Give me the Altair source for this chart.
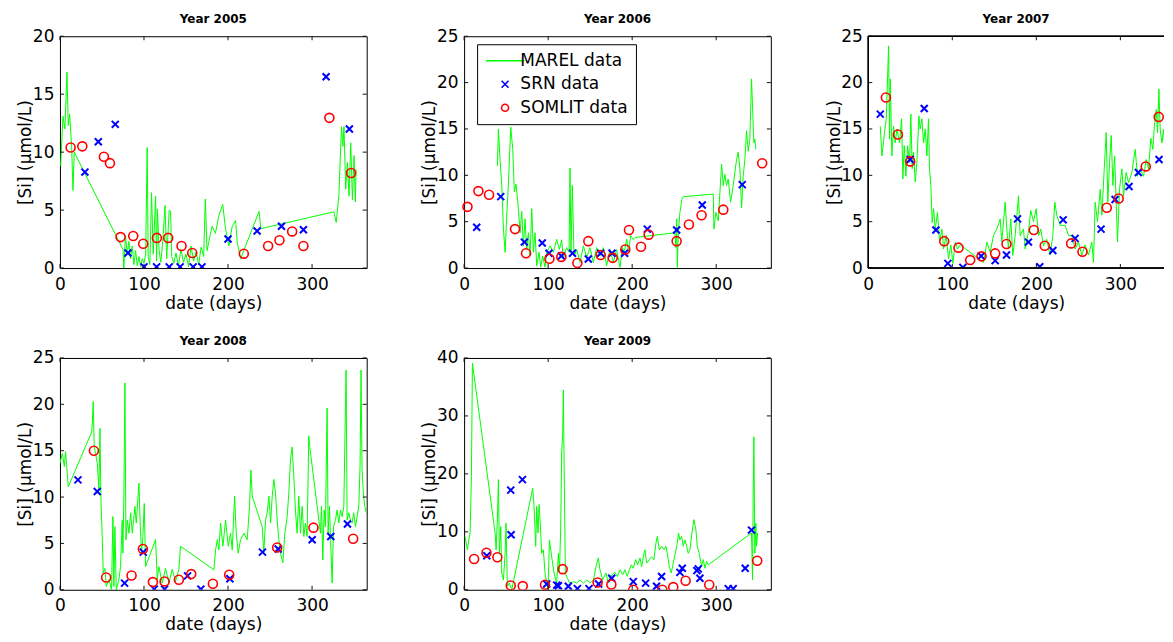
import altair as alt
import pandas as pd

# ---------------- data ----------------
# Year 2005
marel_2005_day = [0.8, 3.6, 5.9, 8.3, 9.9, 11.5, 13.9, 15.5, 17.0, 75.0, 76.0, 78.0, 80, 82, 84, 86, 88, 90, 92, 94, 96, 98, 100, 102,
                  103.8, 105, 107, 109, 111, 113.8, 115, 116, 118, 120, 122, 125, 127, 130, 131.6, 133, 135.6, 138, 141, 144, 147,
                  150, 153, 156, 159, 162, 165, 168, 171, 173, 175, 177, 181, 185, 189, 193.7, 197, 201, 205, 209, 211, 215, 237,
                  239, 326, 328.7, 331.9, 335, 336.7, 338, 340, 342, 344, 346, 348, 350, 351.5, 352.4]
marel_2005_val = [8.8, 13.1, 12.0, 16.9, 12.3, 13.3, 10.5, 6.7, 10.0, 1.6, 0.0, 2.8, 1.2, 2.3, 0.8, 1.9, 0.3, 1.5, 0.2, 1.0, 0.1, 0.8, 0.4, 1.2,
                  10.4, 1.0, 0.3, 6.5, 1.2, 6.2, 0.6, 5.1, 1.5, 0.5, 2.0, 5.4, 0.8, 5.0, 4.9, 1.0, 0.4, 1.3, 0.2, 1.6, 0.5,
                  1.2, 0.1, 1.9, 0.6, 1.4, 0.3, 1.8, 1.0, 5.95, 1.5, 2.2, 3.6, 3.0, 4.5, 5.5, 3.4, 1.9, 3.6, 4.1, 2.2, 0.8, 4.9,
                  3.4, 4.85, 3.93, 6.2, 12.2, 10.5, 12.2, 6.8, 9.1, 6.2, 10.8, 5.9, 9.7, 5.7, 8.5]
srn_2005_day = [29.7, 45.6, 65.8, 80.9, 100, 115, 130, 143, 158.5, 169, 200, 234.6, 263.6, 289.7, 316.7, 344.4]
srn_2005_val = [8.28, 10.9, 12.4, 1.3, 0.1, 0.1, 0.1, 0.1, 0.1, 0.1, 2.5, 3.2, 3.6, 3.3, 16.5, 12.0]
somlit_2005_day = [12.7, 26.6, 52.3, 59.5, 72.1, 87.2, 99.1, 115.3, 128.8, 144.7, 157.4, 218.8, 247.7, 261.2, 276.3, 289.7, 320.6, 346.4]
somlit_2005_val = [10.4, 10.5, 9.6, 9.05, 2.67, 2.76, 2.1, 2.6, 2.6, 1.9, 1.3, 1.24, 1.9, 2.4, 3.16, 1.9, 12.96, 8.2]

# Year 2006
marel_2006_day = [39.6, 40.8, 42.8, 44.8, 46.8, 48.8, 50.7, 52.7, 55.5, 57.9, 59.8, 61.8, 64.6, 66.6, 68.6, 70.5, 72.5, 74.5, 76.5,
                  78.5, 80.5, 82.4, 84.4, 86.4, 89.2, 91.2, 93.5, 96.3, 98.3, 102.3, 106.2, 110.2, 113.4, 116.1, 118.1, 122.0,
                  124.9, 126.0, 127.2, 128.8, 130.8, 134.0, 138.0, 141.9, 145.9, 149.8, 153.8, 157.7, 161.7, 165.7, 169.6,
                  173.6, 177.6, 181.5, 185.5, 188.3, 190.6, 193.4, 195.8, 198.2, 201.3, 204.1, 250.9, 252.0, 253.0, 253.7,
                  254.9, 256.8, 259.2, 260.8, 296.5, 297.3, 299.6, 302.4, 304.4, 306.4, 308.4, 310.3, 312.3, 314.3, 317.1,
                  320.2, 324.2, 326.2, 328.2, 330.2, 332.1, 334.1, 336.1, 338.1, 340.0, 342.0, 343.2, 344.8, 346.0, 347.2]
marel_2006_val = [11.0, 15.0, 11.7, 8.9, 4.2, 1.7, 5.6, 9.05, 15.2, 12.8, 8.2, 9.05, 6.4, 3.8, 6.1, 2.4, 5.3, 2.0, 3.8,
                  1.3, 6.4, 1.7, 3.8, 0.25, 1.7, 0.1, 1.3, 0.1, 1.7, 2.4, 1.7, 3.1, 2.0, 3.05, 1.0, 2.2,
                  1.7, 10.8, 1.7, 8.9, 1.3, 2.0, 0.6, 2.4, 1.15, 2.2, 0.6, 2.2, 1.3, 2.2, 0.25,
                  2.0, 0.6, 2.0, 0.07, 2.2, 1.7, 3.1, 1.7, 3.5, 3.1, 3.3, 3.8, 2.2, 5.3, 0.07,
                  3.8, 6.0, 7.4, 7.7, 7.97, 4.2, 6.0, 5.1, 8.15, 11.2, 8.9, 10.1, 8.9, 9.6, 7.1,
                  8.9, 11.7, 12.5, 10.7, 6.5, 9.9, 11.7, 14.8, 12.6, 13.9, 20.4, 17.5, 13.5, 13.9, 12.8]
srn_2006_day = [15, 43.6, 71.7, 93, 101, 115.7, 129, 147.8, 162.5, 176, 191, 218, 252.9, 283.4, 331]
srn_2006_val = [4.4, 7.7, 2.8, 2.7, 1.6, 1.3, 1.6, 0.97, 1.6, 1.6, 1.6, 4.2, 4.1, 6.8, 9.0]
somlit_2006_day = [4, 17, 29.7, 60.6, 73.7, 101.5, 115.7, 134.8, 147.8, 162.5, 176.8, 191.8, 196.2, 210.5, 219.6, 252.9,
                   267.5, 282.6, 308.4, 354.7]
somlit_2006_val = [6.6, 8.3, 7.9, 4.2, 1.6, 1.0, 1.2, 0.54, 2.9, 1.4, 1.1, 2.0, 4.1, 2.3, 3.6, 2.9, 4.7, 5.7, 6.3, 11.3]

# Year 2007
marel_2007_day = [14.3, 16.3, 19.0, 21.4, 24.2, 25.4, 26.2, 28.1, 30.1, 32.1, 34.1, 37.3, 39.7, 41.2, 42.8, 44.8, 46.8, 49.2,
                  50.7, 52.3, 53.9, 55.9, 57.9, 60.3, 61.8, 63.8, 65.8, 67.8, 69.8, 71.7, 72.9, 74.5, 76.1, 77.7, 79.7,
                  82.4, 84.8, 87.6, 89.6, 92.7, 95.5, 98.3, 100.7, 103.5, 106.2, 109.4, 137.2, 141.2, 145.1, 149.0, 153.0,
                  157.0, 158.9, 162.9, 164.9, 166.8, 169.6, 172.0, 174.8, 176.8, 178.8, 180.7, 184.7, 186.7, 190.6, 193.4,
                  196.6, 199.8, 202.6, 205.3, 208.5, 212.4, 216.4, 219.6, 222.0, 224.3, 228.3, 234.3, 238.3, 242.2, 246.2,
                  250.1, 254.1, 258.1, 262.1, 266.0, 268.0, 270.0, 272.8, 276.0, 278.0, 280.8, 283.1, 285.1, 287.1, 289.1,
                  291.1, 293.1, 295.0, 296.6, 299.0, 301.8, 303.8, 306.9, 309.7, 313.7, 317.6, 320.4, 323.6, 327.6, 330.7,
                  333.5, 336.3, 338.7, 340.7, 342.7, 344.2, 345.8, 347.4, 349.4, 351.4, 353.4, 355.4, 357.3, 359.3, 361.3,
                  363.5]
marel_2007_val = [15.3, 12.1, 14.3, 16.1, 23.96, 13.9, 20.4, 12.1, 15.3, 13.5, 14.99, 13.5, 16.1, 9.6, 13.2, 9.9, 13.2, 11.4,
                  16.6, 10.7, 12.5, 9.3, 11.4, 16.4, 14.99, 16.1, 13.5, 14.99, 12.1, 16.1, 10.7, 8.9, 4.9, 6.4, 4.2,
                  6.0, 2.8, 4.2, 2.05, 3.5, 1.0, 2.5, 0.5, 2.8, 2.05, 2.5, 0.6, 2.8, 1.7, 3.5, 4.2,
                  5.3, 2.8, 7.1, 4.2, 2.05, 5.3, 1.36, 3.5, 5.7, 7.8, 3.5, 4.2, 2.05, 3.9, 6.2,
                  5.0, 6.4, 3.5, 4.2, 2.4, 3.1, 1.4, 3.5, 7.1, 5.7, 4.6, 4.6, 3.5, 3.5, 2.05,
                  2.8, 1.4, 2.5, 1.4, 2.8, 0.6, 7.1, 5.0, 8.5, 5.7, 10.7, 14.6, 7.1, 11.4, 14.3,
                  8.9, 12.1, 7.1, 2.8, 8.5, 10.7, 7.8, 10.3, 9.2, 10.3, 12.8, 9.9, 10.7, 9.9, 11.7,
                  10.7, 14.0, 12.8, 15.7, 17.1, 14.6, 19.3, 14.99, 13.5, 14.99, 12.1, 13.5, 14.99, 12.5, 13.5,
                  14.99]
srn_2007_day = [14.3, 49.9, 66.6, 80.5, 94.7, 112.6, 134.4, 151, 164.5, 177.6, 190.6, 204.1, 219.6, 231.9, 246.1, 277,
                293.7, 310.3, 321.4, 346]
srn_2007_val = [16.6, 11.7, 17.2, 4.1, 0.5, 0.07, 1.3, 0.8, 1.4, 5.3, 2.8, 0.14, 1.9, 5.2, 3.2, 4.2, 7.4, 8.8, 10.3, 11.7]
somlit_2007_day = [21, 35.3, 49.9, 90.4, 107.4, 121.3, 134.8, 151, 164.5, 197, 210, 241.4, 254.9, 283.8, 298, 330.2, 345.6]
somlit_2007_val = [18.4, 14.4, 11.5, 2.9, 2.2, 0.86, 1.26, 1.58, 2.6, 4.1, 2.4, 2.66, 1.76, 6.5, 7.5, 10.96, 16.3]

# Year 2008
marel_2008_day = [0.0, 2.8, 5.2, 6.7, 9.9, 37.7, 38.5, 39.6, 40.8, 42.4, 44.4, 46.4, 47.6, 48.8, 50.3, 51.5, 53.5, 55.1,
                  58.3, 61.4, 63.0, 64.2, 65.4, 67.0, 70.1, 72.1, 74.1, 74.9, 76.1, 77.3, 78.5, 80.1, 82.1, 84.1, 86.1,
                  89.2, 90.8, 94.0, 95.6, 97.1, 98.7, 100.3, 101.9, 113.8, 115.8, 117.7, 121.7, 125.7, 129.7, 133.6,
                  137.6, 141.5, 143.5, 183.2, 185.2, 187.2, 189.1, 191.1, 193.9, 197.1, 200.3, 203.0, 205.0, 207.8,
                  209.8, 212.1, 214.9, 218.9, 222.8, 225.6, 227.2, 228.8, 240.7, 242.6, 244.6, 246.6, 248.6, 250.6,
                  252.6, 254.5, 256.5, 258.5, 260.5, 262.5, 265.2, 267.6, 270.4, 272.3, 274.3, 276.3, 278.3, 280.2,
                  282.2, 284.2, 286.2, 288.2, 290.2, 292.1, 294.1, 296.1, 297.3, 310.0, 311.2, 312.8, 314.4, 315.9,
                  317.9, 319.1, 320.7, 322.3, 323.9, 325.5, 327.9, 329.8, 331.8, 333.8, 335.8, 337.8, 339.8, 340.5,
                  341.7, 343.7, 345.7, 347.6, 349.6, 351.6, 353.6, 355.6, 357.1, 358.3, 359.5, 361.1, 362.6, 364.6]
marel_2008_val = [13.65, 14.7, 13.3, 14.9, 11.1, 17.0, 17.9, 20.3, 15.4, 14.7, 13.65, 10.8, 17.4, 9.7, 5.75, 1.8, 2.3, 0.36,
                  1.08, 0.0, 7.9, 0.36, 6.8, 0.0, 1.08, 2.5, 7.5, 3.95, 10.4, 22.3, 5.4, 7.5, 6.1, 8.3, 6.1,
                  9.0, 7.2, 11.5, 6.8, 3.95, 5.75, 9.3, 2.5, 5.4, 1.08, 2.5, 0.72, 2.3, 0.72, 2.2,
                  0.9, 2.2, 4.7, 2.15, 4.3, 5.4, 4.3, 7.2, 4.7, 7.5, 4.7, 6.1, 4.3, 10.1,
                  6.1, 3.95, 5.4, 6.1, 5.4, 9.0, 12.9, 10.1, 6.8, 3.95, 7.5, 8.3, 10.1, 7.2,
                  10.1, 11.9, 10.4, 7.5, 5.4, 3.95, 2.9, 6.1, 7.9, 10.4, 14.0, 15.4, 12.2, 8.6,
                  6.1, 10.1, 6.1, 9.0, 5.75, 7.2, 5.75, 16.6, 15.4, 6.1, 9.0, 3.2, 8.6, 6.8,
                  19.6, 6.1, 9.0, 4.7, 0.72, 6.8, 7.5, 8.6, 7.2, 8.6, 7.9, 9.0, 20.1, 23.7,
                  7.5, 8.3, 7.5, 7.2, 8.3, 6.8, 7.9, 9.0, 13.3, 23.7, 12.9, 10.4, 9.0, 8.3]
srn_2008_day = [21.4, 44.4, 76.9, 99.1, 112.2, 124.5, 151.8, 167.7, 202.2, 241, 259.7, 300.1, 322.3, 342.1]
srn_2008_val = [11.85, 10.6, 0.72, 4.06, 0.07, 0.07, 1.5, 0.07, 1.19, 4.06, 4.4, 5.4, 5.75, 7.1]
somlit_2008_day = [40.4, 55, 85.2, 98.7, 110.6, 124.5, 141.5, 156.2, 182, 201.4, 258.5, 301.7, 348.9]
somlit_2008_val = [15.0, 1.33, 1.54, 4.4, 0.83, 0.9, 1.08, 1.69, 0.65, 1.62, 4.56, 6.7, 5.5]

# Year 2009
marel_2009_day = [1.2, 2.4, 4.0, 5.5, 7.1, 8.7, 9.9, 36.9, 38.1, 39.6, 40.8, 42.0, 43.6, 44.8, 46.8, 48.8, 49.9, 51.5,
                  53.9, 56.7, 81.6, 83.2, 85.2, 86.4, 88.0, 89.2, 90.4, 92.3, 94.3, 96.3, 98.3, 99.9, 101.5, 104.2,
                  107.0, 110.2, 112.2, 113.4, 114.9, 116.1, 117.3, 118.1, 119.3, 120.5, 122.9, 126.0, 130.0, 134.0,
                  137.9, 141.9, 145.9, 149.8, 153.8, 157.0, 159.7, 161.7, 164.9, 168.8, 171.6, 173.6, 176.8, 179.5,
                  182.3, 185.5, 188.7, 191.4, 194.2, 196.6, 199.0, 201.3, 204.1, 206.5, 209.3, 211.3, 214.0, 215.2,
                  217.2, 220.4, 223.1, 225.9, 228.3, 229.9, 232.3, 235.0, 237.8, 240.2, 241.8, 244.2, 246.5, 248.9,
                  251.3, 253.7, 255.2, 256.8, 258.8, 260.8, 262.8, 264.8, 266.7, 268.7, 271.1, 273.5, 275.9, 277.4,
                  279.8, 282.6, 284.6, 286.6, 288.5, 290.5, 342.0, 343.2, 344.0, 344.8, 346.0, 347.2, 348.0, 349.2]
marel_2009_val = [9.2, 8.05, 6.9, 8.6, 9.8, 19.5, 39.1, 9.8, 6.9, 12.1, 19.0, 6.3, 10.9, 2.9, 1.7, 6.3, 11.5, 0.6,
                  1.15, 0.0, 17.5, 14.4, 7.5, 14.4, 9.8, 14.7, 12.1, 6.3, 6.9, 2.9, 1.15, 0.0, 8.6, 5.7,
                  2.9, 1.15, 6.3, 2.9, 10.3, 23.6, 27.0, 34.5, 17.8, 2.9, 2.0, 1.15, 1.4, 1.15,
                  1.7, 1.15, 1.7, 1.15, 1.7, 4.0, 5.5, 3.45, 1.7, 2.9, 1.15, 2.3, 2.6, 3.0,
                  2.3, 3.45, 2.6, 3.45, 2.3, 3.45, 4.3, 3.7, 5.2, 4.3, 5.5, 4.0, 6.3, 6.9,
                  4.6, 5.2, 5.7, 5.2, 8.05, 9.2, 6.9, 7.5, 6.9, 7.5, 6.3, 4.0, 2.9, 4.6,
                  6.3, 8.05, 9.8, 8.6, 9.2, 7.5, 8.6, 7.5, 6.3, 6.9, 9.8, 12.1, 10.3, 7.5,
                  6.3, 4.0, 5.2, 3.7, 4.9, 4.3, 9.8, 1.7, 16.7, 26.4, 6.3, 11.5, 7.5, 9.8]
srn_2009_day = [27, 55.5, 55.9, 69.4, 98.3, 110.2, 112.2, 124, 134.8, 148.6, 160.1, 175.6, 201.3, 216, 229, 235, 256.8,
                259.6, 277, 278.6, 280.6, 314.3, 320.2, 334.5, 342]
srn_2009_val = [5.86, 17.2, 9.5, 19.0, 1.0, 0.8, 0.7, 0.6, 0.2, 0.2, 1.0, 2.0, 1.4, 1.15, 0.6, 2.3, 3.0, 3.7, 3.3, 3.6, 2.0,
                0.2, 0.2, 3.7, 10.3]
somlit_2009_day = [11.9, 26.6, 39.6, 55.5, 69.8, 96.3, 117.3, 158.9, 175.2, 201.3, 235.8, 248.9, 263.6, 291.7, 348.8]
somlit_2009_val = [5.3, 6.4, 5.6, 0.75, 0.63, 0.86, 3.56, 1.26, 0.92, 0.0, 0.0, 0.46, 1.55, 0.86, 5.0]

years = ["Year 2005", "Year 2006", "Year 2007", "Year 2008", "Year 2009"]
y_max = [20, 25, 25, 25, 40]
# the 2007 panel runs past the right edge of the figure: only its visible part is kept
x_max = [365, 365, 351.9, 365, 365]
y_ticks = [[0, 5, 10, 15, 20], [0, 5, 10, 15, 20, 25], [0, 5, 10, 15, 20, 25], [0, 5, 10, 15, 20, 25],
           [0, 10, 20, 30, 40]]
x_ticks = [0, 100, 200, 300]
series_names = ["MAREL data", "SRN data", "SOMLIT data"]
series_colors = ["#00ff00", "#0000ff", "#ff0000"]

# ---------------- styling ----------------
H = 232
widths = [307, 307, 296, 307, 307]
cut_right = [False, False, True, False, False]
FONT = "DejaVu Sans"
TICK = 4
X_PATH = "M-1,-1L1,1M1,-1L-1,1"
LINE_PATH = "M-5.5,0L5.5,0"

color_scale = alt.Scale(domain=series_names, range=series_colors)
shape_scale = alt.Scale(domain=series_names, range=[LINE_PATH, X_PATH, "circle"])


def panel(title, md, mv, sd, sv, od, ov, ymax, xmax, yt, w, cut, with_legend):
    marel = pd.DataFrame({"day": md, "val": mv, "series": series_names[0]})
    srn = pd.DataFrame({"day": sd, "val": sv, "series": series_names[1]})
    som = pd.DataFrame({"day": od, "val": ov, "series": series_names[2]})
    xs = alt.Scale(domain=[0, xmax], nice=False, zero=False)
    ys = alt.Scale(domain=[0, ymax], nice=False)
    xax = alt.Axis(values=x_ticks, ticks=False, grid=False, domain=False, labelPadding=8,
                   labelFontSize=17, labelFont=FONT, labelColor="black", title="date (days)",
                   titleFontSize=17, titleFont=FONT, titleFontWeight="normal", titleColor="black",
                   titlePadding=3, labelFlush=False)
    yax = alt.Axis(values=yt, ticks=False, grid=False, domain=False, labelPadding=6,
                   labelFontSize=17, labelFont=FONT, labelColor="black", title="[Si] (µmol/L)",
                   titleFontSize=17, titleFont=FONT, titleFontWeight="normal", titleColor="black",
                   titlePadding=-2.5, labelFlush=False)
    X = alt.X("day:Q", scale=xs, axis=xax)
    Y = alt.Y("val:Q", scale=ys, axis=yax)

    if with_legend:
        leg = alt.Legend(orient="none", legendX=13, legendY=8, title=None, padding=8,
                         strokeColor="black", fillColor="white", labelFontSize=17, labelFont=FONT,
                         labelColor="black", symbolSize=49, symbolStrokeWidth=1.6, symbolOffset=11.5,
                         labelOffset=6.8, rowPadding=5.5, cornerRadius=0,
                         labelExpr="datum.label + '\u2002'")
        col = alt.Color("series:N", scale=color_scale, legend=leg)
        shp = alt.Shape("series:N", scale=shape_scale, legend=leg)
        line = alt.Chart(marel).mark_line(strokeWidth=1, clip=True).encode(x=X, y=Y, color=col)
        p1 = alt.Chart(srn).mark_point(size=49, strokeWidth=2, filled=False, opacity=1).encode(
            x=X, y=Y, color=col, shape=shp)
        p2 = alt.Chart(som).mark_point(size=81, strokeWidth=1.6, filled=False, opacity=1).encode(
            x=X, y=Y, color=col, shape=shp)
    else:
        line = alt.Chart(marel).mark_line(strokeWidth=1, color=series_colors[0], clip=True).encode(x=X, y=Y)
        p1 = alt.Chart(srn).mark_point(size=49, strokeWidth=2, filled=False, opacity=1, clip=True,
                                       shape=X_PATH, color=series_colors[1]).encode(x=X, y=Y)
        p2 = alt.Chart(som).mark_point(size=81, strokeWidth=1.6, filled=False, opacity=1, clip=True,
                                       shape="circle", color=series_colors[2]).encode(x=X, y=Y)

    xt = pd.DataFrame({"day": x_ticks})
    ytk = pd.DataFrame({"val": yt})
    tick_style = dict(color="#111111", strokeWidth=1)
    layers = [line, p1, p2]
    layers.append(alt.Chart(xt).mark_rule(**tick_style).encode(x=X, y=alt.value(H), y2=alt.value(H - TICK)))
    layers.append(alt.Chart(xt).mark_rule(**tick_style).encode(x=X, y=alt.value(0), y2=alt.value(TICK)))
    layers.append(alt.Chart(ytk).mark_rule(**tick_style).encode(y=Y, x=alt.value(0), x2=alt.value(TICK)))
    if cut:
        # frame without its right side (that side lies beyond the figure's edge)
        frame = dict(color="black", strokeWidth=1)
        layers.append(alt.Chart(xt).mark_rule(**frame).encode(x=alt.value(0), x2=alt.value(w), y=alt.value(0)))
        layers.append(alt.Chart(xt).mark_rule(**frame).encode(x=alt.value(0), x2=alt.value(w), y=alt.value(H)))
        layers.append(alt.Chart(xt).mark_rule(**frame).encode(x=alt.value(0), y=alt.value(0), y2=alt.value(H)))
        view = alt.ViewBackground(stroke="transparent", strokeWidth=0)
    else:
        layers.append(alt.Chart(ytk).mark_rule(**tick_style).encode(y=Y, x=alt.value(w), x2=alt.value(w - TICK)))
        view = alt.ViewBackground(stroke="black", strokeWidth=1)

    return alt.layer(*layers).properties(
        width=w, height=H, view=view,
        title=alt.TitleParams(title, fontSize=12, font=FONT, fontWeight="bold", color="black",
                              baseline="alphabetic", offset=-8, anchor="middle", frame="group"))


data = [
    (marel_2005_day, marel_2005_val, srn_2005_day, srn_2005_val, somlit_2005_day, somlit_2005_val),
    (marel_2006_day, marel_2006_val, srn_2006_day, srn_2006_val, somlit_2006_day, somlit_2006_val),
    (marel_2007_day, marel_2007_val, srn_2007_day, srn_2007_val, somlit_2007_day, somlit_2007_val),
    (marel_2008_day, marel_2008_val, srn_2008_day, srn_2008_val, somlit_2008_day, somlit_2008_val),
    (marel_2009_day, marel_2009_val, srn_2009_day, srn_2009_val, somlit_2009_day, somlit_2009_val),
]

panels = [panel(years[i], *data[i], y_max[i], x_max[i], y_ticks[i], widths[i], cut_right[i], i == 1)
          for i in range(5)]

chart = alt.concat(*panels, columns=3, spacing={"row": 22, "column": 52.5}, align="each").resolve_scale(
    color="independent", shape="independent").configure_view(
    stroke="black", strokeWidth=1).configure(
    padding={"left": 8, "top": 4, "right": 0, "bottom": 0}, background="white")

chart.save("out.html", embed_options={"renderer": "svg", "actions": False})
